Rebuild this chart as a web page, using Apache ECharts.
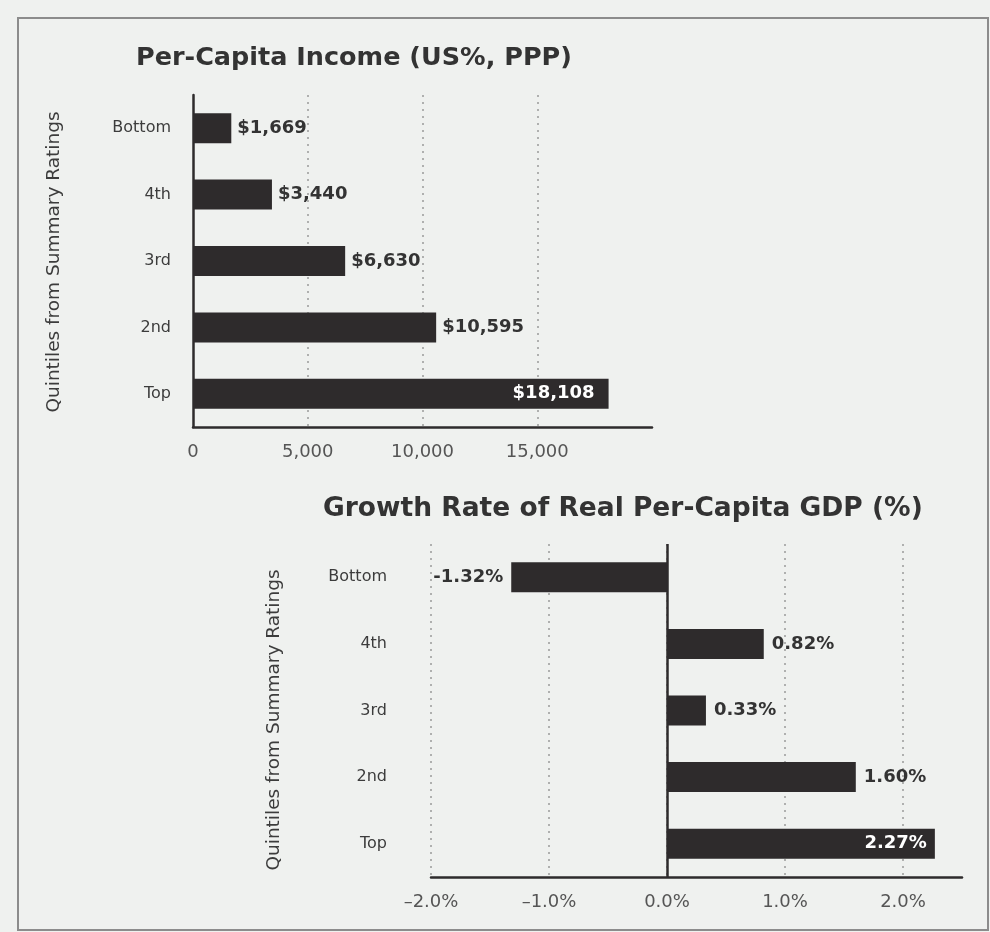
<!DOCTYPE html>
<html>
<head>
<meta charset="utf-8">
<script src="https://cdn.jsdelivr.net/npm/echarts@6/dist/echarts.min.js"></script>
<style>
  html, body { margin: 0; padding: 0; background: #eff1ef; }
  #chart { width: 990px; height: 932px; }
</style>
</head>
<body>
<div id="chart"></div>
<script>
// ---- data ----
const categories = ['Bottom', '4th', '3rd', '2nd', 'Top'];
const incomeValues = [1669, 3440, 6630, 10595, 18108];
const growthValues = [-1.32, 0.82, 0.33, 1.60, 2.27];
const incomeAxisRange = [0, 20000, 5000];   // min, max, step
const growthAxisRange = [-2, 2.5, 1];       // min, max, step
const incomeTitle = 'Per-Capita Income (US%, PPP)';
const growthTitle = 'Growth Rate of Real Per-Capita GDP (%)';
const axisTitle = 'Quintiles from Summary Ratings';

// ---- helpers ----
const ink = '#2e2b2c';
const textCol = '#3c3c3c';
const font = 'DejaVu Sans';
function comma(n) { return String(n).replace(/\B(?=(\d{3})+(?!\d))/g, ','); }

const incomeMax = Math.max(...incomeValues);
const growthMax = Math.max(...growthValues);

const incomeData = incomeValues.map(v => ({
  value: v,
  label: v === incomeMax ? { position: 'insideRight', color: '#ffffff', distance: 14 } : { position: 'right' }
}));
const growthData = growthValues.map(v => ({
  value: v,
  label: v === growthMax ? { position: 'insideRight', color: '#ffffff', distance: 8 }
       : (v < 0 ? { position: 'left' } : { position: 'right' })
}));

const chart = echarts.init(document.getElementById('chart'), null, { renderer: 'canvas' });

chart.setOption({
  backgroundColor: '#eff1ef',
  animation: false,
  title: [
    { text: incomeTitle, left: 131, top: 40,
      textStyle: { fontFamily: font, fontWeight: 'bold', fontSize: 25.5, color: '#333' } },
    { text: growthTitle, left: 318, top: 491,
      textStyle: { fontFamily: font, fontWeight: 'bold', fontSize: 26.5, color: '#333' } }
  ],
  graphic: [
    { type: 'rect', shape: { x: 18, y: 18, width: 970, height: 912 },
      style: { fill: 'none', stroke: '#8c8c8c', lineWidth: 2 }, silent: true },
    { type: 'text', x: 54, y: 262, rotation: Math.PI / 2,
      style: { text: axisTitle, fontFamily: font, fontSize: 18.5, fill: textCol, align: 'center', verticalAlign: 'middle' } },
    { type: 'text', x: 274, y: 720, rotation: Math.PI / 2,
      style: { text: axisTitle, fontFamily: font, fontSize: 18.5, fill: textCol, align: 'center', verticalAlign: 'middle' } }
  ],
  grid: [
    { left: 193, top: 95, width: 459, height: 332 },
    { left: 431, top: 544, width: 531, height: 333 }
  ],
  xAxis: [
    { type: 'value', gridIndex: 0, min: incomeAxisRange[0], max: incomeAxisRange[1], interval: incomeAxisRange[2],
      axisLine: { show: true, lineStyle: { color: ink, width: 2.5 } },
      axisTick: { show: false },
      axisLabel: { showMaxLabel: false, margin: 16, fontFamily: font, fontSize: 18, color: '#555',
        formatter: v => comma(v) },
      splitLine: { show: true, showMinLine: false, showMaxLine: false,
        lineStyle: { color: '#9a9a9a', type: [2, 5], width: 1.5 } } },
    { type: 'value', gridIndex: 1, min: growthAxisRange[0], max: growthAxisRange[1], interval: growthAxisRange[2],
      axisLine: { show: true, lineStyle: { color: ink, width: 2.5 } },
      axisTick: { show: false },
      axisLabel: { showMaxLabel: false, margin: 16, fontFamily: font, fontSize: 18, color: '#555',
        formatter: v => (v < 0 ? '\u2013' + Math.abs(v).toFixed(1) : v.toFixed(1)) + '%' },
      splitLine: { show: true, showMinLine: true, showMaxLine: false,
        lineStyle: { color: '#9a9a9a', type: [2, 5], width: 1.5 } } }
  ],
  yAxis: [
    { type: 'category', gridIndex: 0, data: categories, inverse: true,
      axisLine: { show: true, lineStyle: { color: ink, width: 2.5 } },
      axisTick: { show: false },
      axisLabel: { margin: 22, fontFamily: font, fontSize: 16, color: textCol },
      splitLine: { show: false } },
    { type: 'category', gridIndex: 1, data: categories, inverse: true,
      axisLine: { show: false, onZero: false },
      axisTick: { show: false },
      axisLabel: { margin: 44, fontFamily: font, fontSize: 16, color: textCol },
      splitLine: { show: false } }
  ],
  series: [
    { type: 'bar', xAxisIndex: 0, yAxisIndex: 0, data: incomeData, barWidth: 30,
      itemStyle: { color: ink },
      label: { show: true, fontFamily: font, fontWeight: 'bold', fontSize: 18, color: '#333', distance: 6,
        formatter: p => '$' + comma(p.value) } },
    { type: 'bar', xAxisIndex: 1, yAxisIndex: 1, data: growthData, barWidth: 30,
      itemStyle: { color: ink },
      label: { show: true, fontFamily: font, fontWeight: 'bold', fontSize: 18, color: '#333', distance: 8,
        formatter: p => p.value.toFixed(2) + '%' },
      markLine: { silent: true, symbol: 'none', label: { show: false },
        lineStyle: { color: ink, width: 2.5, type: 'solid' },
        data: [{ xAxis: 0 }] } }
  ]
});
</script>
</body>
</html>
